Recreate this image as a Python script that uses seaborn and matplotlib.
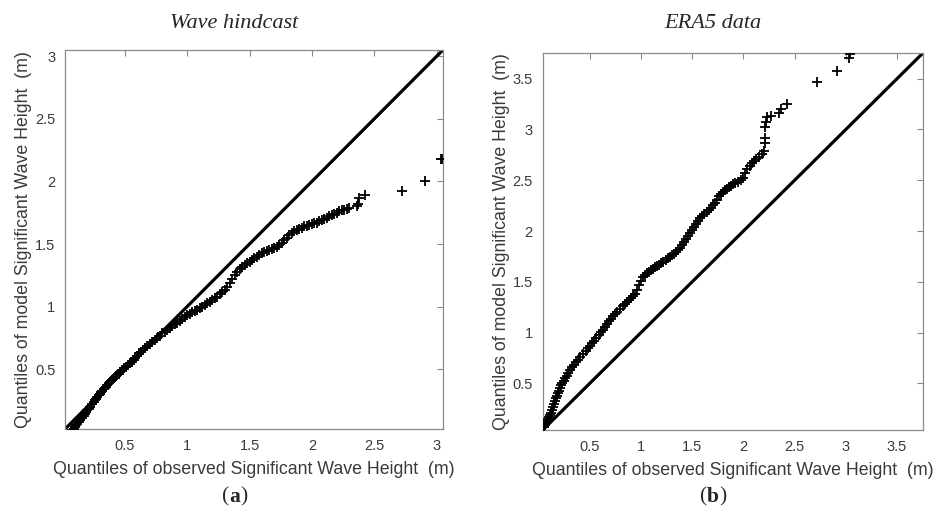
import numpy as np
import pandas as pd
import matplotlib
matplotlib.use("Agg")
import matplotlib.pyplot as plt
import seaborn as sns

# ---------------- data ----------------
hind_obs = [0.07, 0.08, 0.09, 0.10, 0.11, 0.12, 0.13, 0.14, 0.156, 0.17, 0.18, 0.19, 0.20, 0.21,
            0.22, 0.236, 0.25, 0.26, 0.27, 0.28, 0.29, 0.30, 0.31, 0.32, 0.33, 0.34, 0.35, 0.36,
            0.37, 0.38, 0.39, 0.40, 0.41, 0.42, 0.43, 0.44, 0.45, 0.465, 0.48, 0.495, 0.51, 0.525,
            0.54, 0.556, 0.57, 0.585, 0.60, 0.615, 0.63, 0.645, 0.66, 0.68, 0.70, 0.72, 0.74, 0.76,
            0.78, 0.80, 0.82, 0.84, 0.86, 0.88, 0.90, 0.92, 0.94, 0.96, 0.98, 1.00, 1.02, 1.04,
            1.06, 1.08, 1.10, 1.12, 1.14, 1.16, 1.18, 1.20, 1.22, 1.24, 1.26, 1.28, 1.30, 1.32,
            1.34, 1.36, 1.38, 1.40, 1.42, 1.44, 1.46, 1.48, 1.50, 1.52, 1.54, 1.56, 1.58, 1.60,
            1.62, 1.64, 1.66, 1.68, 1.70, 1.72, 1.74, 1.76, 1.78, 1.80, 1.82, 1.84, 1.86, 1.88,
            1.90, 1.92, 1.94, 1.96, 1.98, 2.00, 2.02, 2.04, 2.06, 2.08, 2.10, 2.12, 2.14, 2.16,
            2.18, 2.20, 2.22, 2.24, 2.26,
            2.28, 2.30, 2.36, 2.37, 2.38, 2.43, 2.72, 2.91, 3.035, 3.045]
hind_mod = [0.00, 0.01, 0.02, 0.035, 0.05, 0.06, 0.075, 0.09, 0.11, 0.125, 0.14, 0.155, 0.17, 0.18,
            0.195, 0.22, 0.235, 0.25, 0.26, 0.275, 0.29, 0.30, 0.315, 0.325, 0.34, 0.35, 0.36, 0.375,
            0.385, 0.395, 0.405, 0.415, 0.425, 0.435, 0.445, 0.45, 0.46, 0.475, 0.49, 0.505, 0.52, 0.53,
            0.545, 0.56, 0.575, 0.59, 0.605, 0.625, 0.64, 0.655, 0.67, 0.685, 0.70, 0.715, 0.73, 0.75,
            0.765, 0.785, 0.80, 0.815, 0.83, 0.845, 0.86, 0.87, 0.885, 0.90, 0.915, 0.93, 0.94, 0.955,
            0.965, 0.975, 0.99, 1.00, 1.015, 1.03, 1.04, 1.055, 1.07, 1.08, 1.10, 1.115, 1.135, 1.16,
            1.19, 1.22, 1.25, 1.28, 1.30, 1.32, 1.335, 1.345, 1.36, 1.37, 1.385, 1.40, 1.415, 1.425,
            1.435, 1.445, 1.455, 1.46, 1.465, 1.475, 1.49, 1.51, 1.53, 1.55, 1.57, 1.585, 1.60, 1.61,
            1.62, 1.63, 1.64, 1.645, 1.65, 1.66, 1.665, 1.67, 1.68, 1.69, 1.70, 1.71, 1.72, 1.73,
            1.74, 1.75, 1.76, 1.77, 1.775,
            1.78, 1.79, 1.80, 1.82, 1.87, 1.89, 1.92, 2.00, 2.18, 2.18]

era_obs = [0.05, 0.06, 0.07, 0.08, 0.09, 0.10, 0.11, 0.12, 0.13, 0.14, 0.15, 0.16, 0.17, 0.18,
           0.19, 0.20, 0.21, 0.22, 0.23, 0.245, 0.26, 0.275, 0.29, 0.31, 0.33, 0.35, 0.37, 0.39,
           0.41, 0.435, 0.46, 0.48, 0.50, 0.52, 0.54, 0.565, 0.59, 0.61, 0.63, 0.65, 0.67, 0.69,
           0.71, 0.73, 0.75, 0.77, 0.80, 0.82, 0.84, 0.86, 0.88, 0.90, 0.92, 0.94, 0.96, 0.98,
           1.00, 1.02, 1.04, 1.06, 1.08, 1.10, 1.12, 1.14, 1.16, 1.18, 1.20, 1.22, 1.24, 1.26,
           1.28, 1.30, 1.32, 1.34, 1.36, 1.38, 1.40, 1.42, 1.44, 1.46, 1.48, 1.50, 1.52, 1.54,
           1.56, 1.58, 1.60, 1.62, 1.64, 1.66, 1.68, 1.70, 1.72, 1.74, 1.76, 1.78, 1.80, 1.82,
           1.84, 1.86, 1.88, 1.90, 1.92, 1.95, 1.98, 2.00, 2.02, 2.04, 2.06, 2.08, 2.10, 2.12,
           2.15, 2.18, 2.20,
           2.21, 2.21, 2.21, 2.22, 2.23, 2.27, 2.35, 2.37, 2.43, 2.72, 2.91, 3.03, 3.04]
era_mod = [0.07, 0.09, 0.11, 0.13, 0.15, 0.17, 0.19, 0.21, 0.24, 0.27, 0.30, 0.33, 0.36, 0.38,
           0.41, 0.43, 0.455, 0.48, 0.50, 0.525, 0.55, 0.575, 0.60, 0.63, 0.66, 0.685, 0.71, 0.735,
           0.76, 0.79, 0.82, 0.845, 0.87, 0.895, 0.92, 0.95, 0.98, 1.005, 1.03, 1.06, 1.085, 1.11,
           1.135, 1.16, 1.18, 1.20, 1.235, 1.26, 1.28, 1.30, 1.32, 1.345, 1.365, 1.385, 1.42, 1.47,
           1.51, 1.545, 1.565, 1.585, 1.60, 1.615, 1.63, 1.645, 1.655, 1.67, 1.685, 1.70, 1.71, 1.73,
           1.745, 1.76, 1.775, 1.79, 1.81, 1.835, 1.86, 1.89, 1.92, 1.95, 1.98, 2.01, 2.04, 2.07,
           2.10, 2.13, 2.15, 2.17, 2.19, 2.21, 2.23, 2.255, 2.28, 2.31, 2.34, 2.36, 2.38, 2.40,
           2.415, 2.43, 2.445, 2.46, 2.47, 2.485, 2.50, 2.52, 2.57, 2.61, 2.64, 2.67, 2.69, 2.705,
           2.73, 2.76, 2.79,
           2.87, 2.92, 3.02, 3.07, 3.12, 3.13, 3.16, 3.20, 3.25, 3.47, 3.58, 3.70, 3.74]

titles = ["Wave hindcast", "ERA5 data"]
panel_letters = ["a", "b"]
hind_ticks = [0.5, 1, 1.5, 2, 2.5, 3]
era_ticks = [0.5, 1, 1.5, 2, 2.5, 3, 3.5]
hind_lim = [0.02, 3.05]
era_lim = [0.04, 3.75]

xlabel = "Quantiles of observed Significant Wave Height  (m)"
ylabel = "Quantiles of model Significant Wave Height  (m)"

# ---------------- figure ----------------
sns.set_theme(style="white")
plt.rcParams["font.family"] = ["Liberation Sans", "DejaVu Sans"]
serif = ["Liberation Serif", "DejaVu Serif"]

fig = plt.figure(figsize=(9.42, 5.17), dpi=100)
axA = fig.add_axes([0.069, 0.170, 0.401, 0.733])
axB = fig.add_axes([0.576, 0.168, 0.4035, 0.729])

gray_axis = "#8a8a8a"
gray_text = "#3a3a3a"

panels = [
    (axA, hind_obs, hind_mod, hind_ticks, hind_lim),
    (axB, era_obs, era_mod, era_ticks, era_lim),
]

for ax, xo, ym, ticks, lim in panels:
    df = pd.DataFrame({"obs": xo, "mod": ym})
    ref = pd.DataFrame({"x": lim, "y": lim})
    sns.lineplot(data=ref, x="x", y="y", ax=ax, color="black", linewidth=2.3)
    sns.scatterplot(data=df, x="obs", y="mod", ax=ax, marker="+", s=58,
                    color="black", linewidth=1.3, zorder=3)
    ax.set_xlim(lim)
    ax.set_ylim(lim)
    ax.set_xticks(ticks)
    ax.set_yticks(ticks)
    ax.set_xticklabels([f"{t:g}" for t in ticks])
    ax.set_yticklabels([f"{t:g}" for t in ticks])
    ax.tick_params(direction="in", top=True, right=True, length=4, width=0.8,
                   color=gray_axis, labelcolor=gray_text, labelsize=10.5, pad=7)
    for sp in ax.spines.values():
        sp.set_color(gray_axis)
        sp.set_linewidth(0.9)
    ax.set_xlabel(xlabel, fontsize=12.8, color=gray_text, labelpad=6)
    ax.set_ylabel(ylabel, fontsize=12.8, color=gray_text, labelpad=2)

for xc, t in zip([0.249, 0.757], titles):
    fig.text(xc, 0.955, t, ha="center", va="center", fontsize=16,
             style="italic", family=serif)

# panel letters: "(" + bold letter + ")"
fig.canvas.draw()
r = fig.canvas.get_renderer()
inv = fig.transFigure.inverted()
for xc, L in zip([0.249, 0.757], panel_letters):
    lt = fig.text(xc, 0.038, L, ha="center", va="center", fontsize=15.5,
                  weight="bold", family=serif)
    bb = lt.get_window_extent(r)
    x0 = inv.transform((bb.x0, bb.y0))[0]
    x1 = inv.transform((bb.x1, bb.y0))[0]
    fig.text(x0, 0.038, "(", ha="right", va="center", fontsize=15.5, family=serif)
    fig.text(x1, 0.038, ")", ha="left", va="center", fontsize=15.5, family=serif)

fig.savefig("out.png", dpi=100)
